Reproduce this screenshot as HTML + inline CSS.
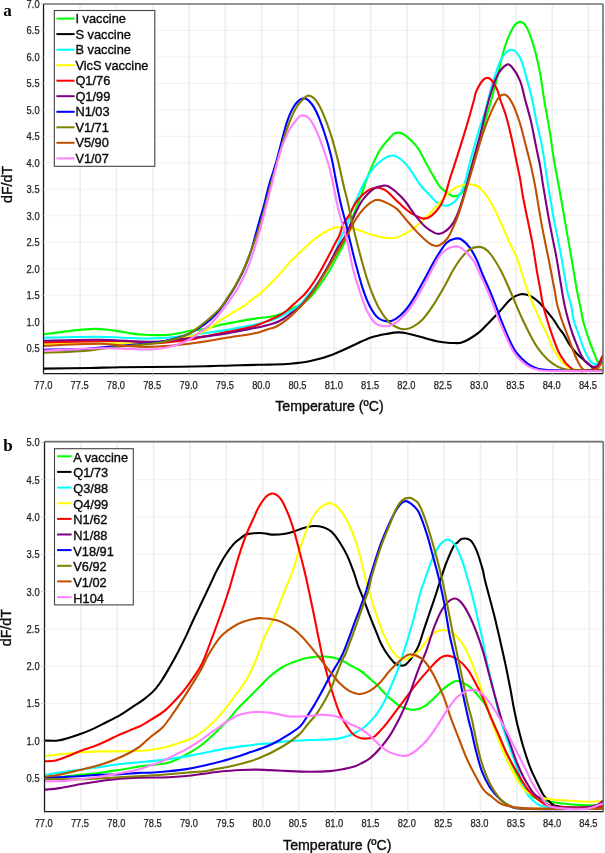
<!DOCTYPE html>
<html><head><meta charset="utf-8"><style>
html,body{margin:0;padding:0;background:#fff;}
svg{display:block;}
.tk{font-family:"Liberation Sans",sans-serif;font-size:10.7px;fill:#222;}
.ti{font-family:"Liberation Sans",sans-serif;font-size:14.2px;fill:#111;}
.lg{font-family:"Liberation Sans",sans-serif;font-size:12.8px;fill:#111;}
.lt{font-family:"Liberation Serif",serif;font-weight:bold;font-size:17px;fill:#000;}
svg{will-change:transform;}
.ti,.lg{stroke:#000;stroke-width:0.35px;}
.tk{stroke:#222;stroke-width:0.25px;}
</style></head><body>
<svg width="605" height="853" viewBox="0 0 605 853">
<defs>
<clipPath id="ca"><rect x="43.5" y="4.0" width="559.5" height="369.5"/></clipPath>
<clipPath id="cb"><rect x="44.5" y="441.6" width="558.8" height="370.1"/></clipPath>
</defs>
<line x1="43.8" y1="4.0" x2="43.8" y2="373.5" stroke="#eeeeee" stroke-width="1.6"/>
<line x1="80.1" y1="4.0" x2="80.1" y2="373.5" stroke="#eeeeee" stroke-width="1.6"/>
<line x1="116.4" y1="4.0" x2="116.4" y2="373.5" stroke="#eeeeee" stroke-width="1.6"/>
<line x1="152.7" y1="4.0" x2="152.7" y2="373.5" stroke="#eeeeee" stroke-width="1.6"/>
<line x1="189.1" y1="4.0" x2="189.1" y2="373.5" stroke="#eeeeee" stroke-width="1.6"/>
<line x1="225.4" y1="4.0" x2="225.4" y2="373.5" stroke="#eeeeee" stroke-width="1.6"/>
<line x1="261.7" y1="4.0" x2="261.7" y2="373.5" stroke="#eeeeee" stroke-width="1.6"/>
<line x1="298.0" y1="4.0" x2="298.0" y2="373.5" stroke="#eeeeee" stroke-width="1.6"/>
<line x1="334.3" y1="4.0" x2="334.3" y2="373.5" stroke="#eeeeee" stroke-width="1.6"/>
<line x1="370.6" y1="4.0" x2="370.6" y2="373.5" stroke="#eeeeee" stroke-width="1.6"/>
<line x1="406.9" y1="4.0" x2="406.9" y2="373.5" stroke="#eeeeee" stroke-width="1.6"/>
<line x1="443.3" y1="4.0" x2="443.3" y2="373.5" stroke="#eeeeee" stroke-width="1.6"/>
<line x1="479.6" y1="4.0" x2="479.6" y2="373.5" stroke="#eeeeee" stroke-width="1.6"/>
<line x1="515.9" y1="4.0" x2="515.9" y2="373.5" stroke="#eeeeee" stroke-width="1.6"/>
<line x1="552.2" y1="4.0" x2="552.2" y2="373.5" stroke="#eeeeee" stroke-width="1.6"/>
<line x1="588.5" y1="4.0" x2="588.5" y2="373.5" stroke="#eeeeee" stroke-width="1.6"/>
<line x1="43.5" y1="30.4" x2="603.0" y2="30.4" stroke="#e4e4e4" stroke-width="1" stroke-dasharray="1,1"/>
<line x1="43.5" y1="56.9" x2="603.0" y2="56.9" stroke="#e4e4e4" stroke-width="1" stroke-dasharray="1,1"/>
<line x1="43.5" y1="83.4" x2="603.0" y2="83.4" stroke="#e4e4e4" stroke-width="1" stroke-dasharray="1,1"/>
<line x1="43.5" y1="109.9" x2="603.0" y2="109.9" stroke="#e4e4e4" stroke-width="1" stroke-dasharray="1,1"/>
<line x1="43.5" y1="136.3" x2="603.0" y2="136.3" stroke="#e4e4e4" stroke-width="1" stroke-dasharray="1,1"/>
<line x1="43.5" y1="162.8" x2="603.0" y2="162.8" stroke="#e4e4e4" stroke-width="1" stroke-dasharray="1,1"/>
<line x1="43.5" y1="189.3" x2="603.0" y2="189.3" stroke="#e4e4e4" stroke-width="1" stroke-dasharray="1,1"/>
<line x1="43.5" y1="215.8" x2="603.0" y2="215.8" stroke="#e4e4e4" stroke-width="1" stroke-dasharray="1,1"/>
<line x1="43.5" y1="242.3" x2="603.0" y2="242.3" stroke="#e4e4e4" stroke-width="1" stroke-dasharray="1,1"/>
<line x1="43.5" y1="268.8" x2="603.0" y2="268.8" stroke="#e4e4e4" stroke-width="1" stroke-dasharray="1,1"/>
<line x1="43.5" y1="295.3" x2="603.0" y2="295.3" stroke="#e4e4e4" stroke-width="1" stroke-dasharray="1,1"/>
<line x1="43.5" y1="321.8" x2="603.0" y2="321.8" stroke="#e4e4e4" stroke-width="1" stroke-dasharray="1,1"/>
<line x1="43.5" y1="348.3" x2="603.0" y2="348.3" stroke="#e4e4e4" stroke-width="1" stroke-dasharray="1,1"/>
<g clip-path="url(#ca)" fill="none" stroke-width="2.1" stroke-linejoin="round" stroke-linecap="round">
<path d="M44.0,334.2 C47.7,333.7 60.0,332.2 66.4,331.4 C72.8,330.6 77.5,330.0 82.3,329.6 C87.1,329.2 91.5,328.9 95.5,328.9 C99.5,328.9 102.1,329.1 106.1,329.5 C110.1,329.9 115.0,330.7 119.3,331.4 C123.6,332.1 127.6,333.0 132.0,333.6 C136.4,334.2 141.1,334.6 145.8,334.8 C150.5,335.1 156.0,335.1 160.0,335.1 C164.0,335.1 166.6,335.2 170.0,334.8 C173.4,334.4 176.9,333.6 180.2,333.0 C183.4,332.4 185.1,331.7 189.5,331.0 C193.9,330.3 201.5,329.6 206.6,328.6 C211.7,327.6 215.4,326.0 219.8,325.0 C224.2,324.0 229.7,323.0 233.1,322.4 C236.5,321.8 237.2,321.6 240.0,321.1 C242.8,320.6 246.9,319.9 250.0,319.4 C253.1,318.9 255.6,318.5 258.3,318.1 C261.1,317.8 263.8,317.7 266.5,317.3 C269.2,316.9 272.6,316.2 274.8,315.7 C277.1,315.2 278.0,315.0 280.0,314.2 C282.0,313.4 284.7,312.1 287.0,311.0 C289.3,309.9 291.7,308.6 294.0,307.5 C296.3,306.4 298.2,306.2 301.0,304.5 C303.8,302.8 307.4,300.2 310.5,297.0 C313.6,293.8 316.5,289.7 319.5,285.5 C322.5,281.3 325.7,276.7 328.5,272.0 C331.3,267.3 333.7,262.8 336.5,257.5 C339.3,252.2 342.7,247.1 345.5,240.0 C348.3,232.9 350.8,222.2 353.4,215.0 C355.9,207.8 358.7,202.4 360.8,196.7 C362.9,191.0 364.2,186.2 366.1,180.9 C368.0,175.6 370.1,170.2 372.4,165.1 C374.7,160.0 377.3,154.4 379.8,150.3 C382.3,146.2 384.7,143.6 387.2,140.8 C389.7,138.0 392.1,134.6 394.6,133.4 C397.1,132.2 399.5,132.5 402.0,133.4 C404.5,134.3 406.9,136.5 409.5,138.9 C412.1,141.3 415.1,144.0 417.8,148.0 C420.6,152.0 423.2,157.9 426.0,162.9 C428.8,167.9 431.9,173.8 434.3,177.8 C436.7,181.8 438.1,184.6 440.1,187.0 C442.2,189.4 444.3,190.7 446.6,192.3 C448.9,193.9 451.5,196.3 454.0,196.4 C456.5,196.5 459.4,195.0 461.5,193.1 C463.6,191.2 464.9,188.8 466.4,184.9 C467.9,181.1 469.0,175.8 470.6,170.0 C472.2,164.2 473.9,157.0 476.0,150.0 C478.1,143.0 480.4,136.3 483.0,128.0 C485.6,119.7 488.8,108.8 491.3,100.0 C493.8,91.2 495.7,83.7 497.9,75.0 C500.1,66.3 502.0,55.8 504.5,48.0 C507.0,40.2 510.1,32.5 512.7,28.2 C515.3,23.8 517.9,22.0 520.2,21.9 C522.6,21.8 524.5,23.0 526.8,27.4 C529.1,31.8 532.0,40.4 534.2,48.0 C536.4,55.6 538.3,64.1 540.0,72.8 C541.7,81.5 542.5,90.0 544.2,100.0 C545.9,110.0 548.4,123.1 550.0,133.1 C551.6,143.1 552.4,150.5 554.0,160.0 C555.6,169.5 557.6,179.5 559.5,190.0 C561.4,200.5 563.4,212.1 565.3,223.1 C567.2,234.1 569.2,245.0 571.1,256.1 C573.0,267.2 575.2,281.0 576.9,290.0 C578.5,299.0 580.0,305.0 581.0,310.0 C582.0,315.0 581.9,316.1 582.9,320.0 C583.9,323.9 585.4,328.8 586.8,333.2 C588.2,337.6 590.0,342.5 591.4,346.4 C592.8,350.3 594.3,353.8 595.4,356.4 C596.5,359.0 597.2,361.4 598.1,362.3 C599.0,363.2 599.7,362.6 600.5,362.0 C601.3,361.4 602.6,359.5 603.0,359.0" stroke="#00ff00"/>
<path d="M44.0,368.6 C51.7,368.5 77.3,368.2 90.0,368.0 C102.7,367.8 105.0,367.4 120.0,367.2 C135.0,367.0 165.0,367.0 180.0,366.8 C195.0,366.6 199.9,366.4 209.8,366.1 C219.7,365.8 229.6,365.4 239.5,365.2 C249.4,364.9 260.9,364.8 269.3,364.6 C277.7,364.4 283.0,364.4 290.0,363.8 C297.0,363.2 304.3,362.4 311.5,360.8 C318.7,359.2 325.8,357.1 333.0,354.4 C340.2,351.7 348.1,347.6 354.5,344.7 C360.9,341.8 366.1,339.0 371.7,337.2 C377.3,335.4 383.9,334.4 388.3,333.6 C392.7,332.8 395.2,332.5 398.2,332.4 C401.2,332.3 403.4,332.6 406.4,333.2 C409.4,333.8 412.8,334.7 416.4,335.7 C420.0,336.7 424.3,338.0 427.9,339.0 C431.5,340.0 434.6,340.9 437.9,341.5 C441.2,342.1 445.0,342.6 447.8,342.8 C450.6,343.1 452.3,343.0 454.5,343.0 C456.7,343.0 458.5,343.5 461.0,342.8 C463.5,342.1 466.1,340.9 469.3,339.0 C472.5,337.1 477.2,333.9 480.0,331.6 C482.8,329.3 483.7,327.8 486.1,325.4 C488.5,323.0 491.6,320.0 494.4,317.1 C497.1,314.2 499.9,311.1 502.6,308.1 C505.4,305.1 507.9,301.3 510.9,299.0 C513.9,296.7 517.4,294.9 520.5,294.3 C523.6,293.8 526.9,294.5 529.8,295.7 C532.7,296.9 535.4,299.0 538.1,301.5 C540.9,304.0 543.7,307.5 546.3,310.6 C548.9,313.7 551.8,317.2 553.8,320.0 C555.8,322.8 556.8,325.1 558.5,327.5 C560.2,329.9 562.0,331.8 563.8,334.5 C565.5,337.2 567.4,341.2 569.0,343.8 C570.6,346.4 572.1,347.9 573.6,349.8 C575.1,351.7 576.6,353.4 578.2,355.0 C579.9,356.6 581.9,358.3 583.5,359.7 C585.1,361.1 586.6,362.3 588.1,363.6 C589.6,364.9 591.5,366.6 592.8,367.6 C594.1,368.6 594.1,369.1 596.0,369.5 C597.9,369.9 602.7,369.9 604.0,370.0" stroke="#000000"/>
<path d="M44.0,337.8 C52.5,337.6 80.7,336.8 95.0,336.8 C109.3,336.8 120.2,337.7 130.0,338.0 C139.8,338.3 144.1,338.8 154.0,338.4 C163.9,338.0 181.0,336.4 189.5,335.5 C198.0,334.6 199.0,333.9 205.0,333.0 C211.0,332.1 217.8,331.3 225.3,330.1 C232.8,328.9 243.9,326.8 250.0,325.6 C256.1,324.4 257.9,323.9 262.0,322.8 C266.1,321.7 270.6,320.6 274.8,319.0 C279.0,317.4 283.1,315.6 287.2,313.2 C291.3,310.8 296.4,307.6 299.6,304.9 C302.8,302.2 303.8,300.3 306.5,297.0 C309.2,293.7 312.9,289.2 316.0,285.0 C319.1,280.8 322.1,276.8 325.0,272.0 C327.9,267.2 330.7,262.2 333.5,256.0 C336.3,249.8 339.7,240.4 342.0,235.0 C344.3,229.6 345.8,227.7 347.4,223.8 C348.9,219.9 349.6,216.0 351.3,211.5 C353.0,207.0 355.6,201.4 357.7,196.7 C359.8,191.9 361.6,187.6 364.0,183.0 C366.4,178.4 369.6,173.0 372.4,169.3 C375.2,165.6 378.1,163.1 380.9,160.9 C383.7,158.7 386.9,156.9 389.3,156.1 C391.8,155.3 393.0,154.9 395.6,156.1 C398.2,157.2 402.4,160.5 405.0,163.0 C407.6,165.5 408.5,167.4 411.2,171.2 C413.9,175.0 418.0,182.1 421.1,186.0 C424.2,189.9 426.8,192.0 429.6,194.9 C432.4,197.8 435.1,201.4 437.9,203.2 C440.7,205.0 443.4,206.0 446.2,205.7 C449.0,205.4 452.3,203.8 454.9,201.4 C457.4,199.0 459.7,195.1 461.5,191.5 C463.3,187.9 464.2,184.7 465.6,179.9 C467.0,175.1 467.7,170.6 469.8,162.8 C471.9,155.0 475.5,141.9 478.1,133.1 C480.7,124.3 483.3,117.6 485.5,110.0 C487.7,102.4 489.3,94.5 491.2,87.7 C493.1,81.0 495.1,74.7 497.0,69.5 C498.9,64.3 500.3,59.6 502.8,56.3 C505.3,53.0 509.0,49.4 511.9,49.7 C514.8,50.0 517.9,53.5 520.2,57.9 C522.6,62.3 524.1,69.5 526.0,76.1 C527.9,82.7 529.9,89.8 531.7,97.6 C533.5,105.4 535.1,115.3 536.8,123.1 C538.5,130.9 540.2,137.1 541.7,144.6 C543.2,152.1 544.3,160.4 545.5,168.0 C546.7,175.6 547.3,180.8 548.8,190.0 C550.3,199.2 552.5,212.1 554.6,223.1 C556.7,234.1 559.1,245.0 561.2,256.1 C563.3,267.2 565.4,281.9 567.0,290.0 C568.6,298.1 570.0,299.8 571.1,304.8 C572.2,309.8 572.4,315.3 573.6,320.0 C574.8,324.7 576.7,328.8 578.2,333.2 C579.8,337.6 581.4,342.5 582.9,346.4 C584.4,350.3 586.1,353.8 587.5,356.4 C588.9,359.0 590.2,361.0 591.4,362.3 C592.6,363.6 593.8,363.8 594.8,364.0 C595.8,364.2 596.5,363.9 597.4,363.6 C598.3,363.3 599.1,362.6 600.0,362.0 C600.9,361.4 602.5,360.3 603.0,360.0" stroke="#00ffff"/>
<path d="M44.0,344.2 C56.0,344.1 97.7,343.6 116.0,343.4 C134.3,343.2 144.7,343.3 154.0,342.8 C163.3,342.3 166.1,341.7 172.0,340.6 C177.9,339.6 184.8,337.7 189.5,336.5 C194.2,335.3 196.8,334.4 200.0,333.2 C203.2,331.9 206.4,330.3 208.6,329.0 C210.8,327.7 211.3,326.9 213.2,325.5 C215.1,324.1 217.6,322.2 219.8,320.7 C222.0,319.2 224.2,318.0 226.4,316.6 C228.6,315.2 230.8,313.8 233.1,312.4 C235.4,311.0 237.9,309.5 240.0,308.3 C242.1,307.1 243.6,306.4 245.5,305.0 C247.4,303.6 249.4,301.4 251.5,299.8 C253.6,298.2 256.2,296.5 258.1,295.1 C260.0,293.7 261.1,292.7 262.8,291.2 C264.5,289.7 266.1,287.9 268.1,285.9 C270.1,283.9 272.9,281.1 274.7,279.3 C276.5,277.5 277.0,277.2 279.0,274.9 C281.0,272.6 284.7,268.1 286.9,265.6 C289.1,263.1 290.2,261.8 292.0,260.0 C293.8,258.2 295.4,256.8 297.5,254.8 C299.6,252.8 302.7,249.8 304.8,247.8 C306.9,245.8 308.3,244.5 310.0,243.0 C311.7,241.5 313.2,239.9 315.0,238.6 C316.8,237.3 317.7,236.7 320.5,235.0 C323.3,233.3 328.2,229.7 331.6,228.4 C335.0,227.1 337.7,227.2 341.0,227.1 C344.3,227.0 347.8,227.2 351.2,227.9 C354.6,228.6 358.2,230.2 361.7,231.3 C365.2,232.5 368.2,233.7 372.1,234.8 C376.0,235.9 381.2,237.4 385.0,237.9 C388.8,238.4 391.3,238.7 394.9,237.9 C398.5,237.1 402.6,235.1 406.5,232.9 C410.4,230.7 414.5,227.6 418.1,224.7 C421.7,221.8 424.7,218.9 428.0,215.6 C431.3,212.3 434.5,208.6 437.9,204.8 C441.3,201.1 445.2,196.0 448.3,193.1 C451.4,190.2 453.8,188.8 456.5,187.4 C459.2,186.0 462.3,185.0 464.8,184.5 C467.3,184.0 469.2,184.2 471.4,184.5 C473.6,184.8 475.8,185.1 478.0,186.5 C480.2,187.9 482.4,190.3 484.6,193.1 C486.8,195.9 489.0,199.2 491.2,203.1 C493.4,207.0 495.7,211.6 497.9,216.3 C500.1,221.0 502.3,226.2 504.5,231.2 C506.7,236.1 508.9,241.2 511.1,246.0 C513.3,250.8 515.6,254.4 517.7,260.1 C519.9,265.8 522.0,273.9 524.0,280.0 C526.0,286.1 527.1,289.8 529.8,296.5 C532.5,303.2 537.2,313.9 540.0,320.0 C542.8,326.1 544.4,328.3 546.6,333.2 C548.8,338.1 550.8,344.5 553.2,349.1 C555.6,353.7 559.1,358.4 561.1,361.0 C563.1,363.6 563.7,363.4 565.0,364.5 C566.3,365.6 567.0,366.8 569.0,367.6 C571.0,368.5 574.2,369.1 576.9,369.6 C579.6,370.1 582.0,370.4 585.0,370.5 C588.0,370.6 592.4,370.3 595.0,370.0 C597.6,369.7 599.2,369.4 600.7,368.9 C602.2,368.4 603.5,367.3 604.0,367.0" stroke="#ffff00"/>
<path d="M44.0,342.4 C53.3,342.2 85.7,341.4 100.0,341.2 C114.3,341.0 121.0,340.9 130.0,341.2 C139.0,341.5 144.1,343.5 154.0,343.2 C163.9,342.9 181.8,340.6 189.5,339.6 C197.2,338.6 196.1,338.2 200.0,337.4 C203.9,336.6 208.8,335.7 213.2,334.8 C217.6,333.9 222.0,333.0 226.4,332.1 C230.8,331.2 235.8,330.3 239.7,329.5 C243.6,328.7 246.9,328.0 250.0,327.2 C253.1,326.4 255.6,325.8 258.3,324.8 C261.1,323.8 263.8,322.6 266.5,321.4 C269.2,320.2 272.3,318.9 274.8,317.7 C277.3,316.5 279.3,315.6 281.4,314.4 C283.5,313.2 285.1,312.0 287.2,310.3 C289.3,308.6 291.7,306.0 293.8,304.1 C295.9,302.2 297.4,301.2 299.6,299.1 C301.8,297.0 304.2,295.0 307.0,291.5 C309.8,288.0 313.2,283.1 316.3,278.2 C319.4,273.2 322.8,266.8 325.5,261.8 C328.2,256.8 330.2,252.9 332.5,248.4 C334.8,243.9 337.7,239.0 339.5,235.0 C341.3,231.0 341.5,227.7 343.1,224.4 C344.7,221.1 347.1,218.6 349.2,215.0 C351.3,211.4 353.2,206.5 355.5,203.1 C357.8,199.7 360.4,196.9 362.9,194.6 C365.4,192.3 368.0,190.4 370.3,189.3 C372.6,188.2 374.8,188.0 376.6,187.8 C378.4,187.6 379.1,187.7 380.9,188.3 C382.7,188.9 384.9,189.8 387.2,191.5 C389.5,193.2 391.6,196.0 394.6,198.8 C397.6,201.6 402.1,206.0 405.0,208.5 C407.9,211.0 408.8,211.9 411.9,213.6 C415.0,215.3 420.5,218.3 423.8,218.6 C427.1,218.9 429.1,217.6 431.7,215.6 C434.3,213.6 437.4,210.2 439.7,206.7 C442.0,203.2 443.6,199.2 445.3,194.5 C447.0,189.8 447.8,185.4 450.0,178.5 C452.2,171.6 455.6,161.6 458.3,152.9 C461.1,144.2 463.9,135.2 466.5,126.4 C469.1,117.6 472.4,105.9 474.0,100.0 C475.6,94.1 474.8,94.4 476.4,91.0 C478.0,87.6 481.5,81.4 483.8,79.4 C486.1,77.4 488.2,77.4 490.4,79.1 C492.6,80.8 495.3,85.8 497.0,89.3 C498.7,92.8 498.9,95.5 500.4,100.0 C501.9,104.5 504.4,110.4 506.2,116.5 C508.0,122.6 509.5,129.2 511.2,136.4 C512.9,143.6 514.6,152.3 516.1,159.5 C517.6,166.7 519.1,173.4 520.2,179.3 C521.3,185.2 521.4,188.1 522.6,194.8 C523.8,201.5 525.9,211.3 527.6,219.6 C529.3,227.9 531.1,236.0 532.6,244.4 C534.1,252.8 535.5,262.7 536.7,270.0 C537.9,277.3 539.0,282.2 540.0,288.0 C541.0,293.8 541.8,299.5 543.0,304.8 C544.2,310.1 545.7,315.1 547.2,320.0 C548.7,324.9 550.0,329.2 551.9,334.5 C553.8,339.8 556.3,347.1 558.5,351.7 C560.7,356.3 563.5,360.0 565.1,362.3 C566.7,364.6 567.2,364.6 568.3,365.6 C569.4,366.6 570.6,367.7 571.7,368.5 C572.8,369.3 572.7,370.0 574.9,370.4 C577.1,370.8 581.9,371.2 585.0,371.0 C588.1,370.8 591.2,369.9 593.4,368.9 C595.6,367.9 596.7,367.0 598.1,365.0 C599.5,363.0 601.0,358.8 602.0,357.0 C603.0,355.2 603.7,354.5 604.0,354.0" stroke="#ff0000"/>
<path d="M44.0,340.8 C53.3,340.6 81.7,339.6 100.0,339.8 C118.3,340.0 139.1,342.1 154.0,341.8 C168.9,341.5 181.8,338.8 189.5,338.0 C197.2,337.2 194.0,337.7 200.0,337.0 C206.0,336.3 217.0,335.0 225.3,333.6 C233.6,332.2 243.8,330.1 250.0,328.9 C256.2,327.7 258.3,327.4 262.4,326.4 C266.5,325.4 271.4,324.3 274.8,323.1 C278.2,321.9 280.4,320.6 283.1,319.0 C285.9,317.4 288.5,315.3 291.3,313.2 C294.1,311.1 297.0,309.6 300.0,306.6 C303.0,303.7 306.4,299.5 309.5,295.5 C312.6,291.5 315.4,287.4 318.5,282.5 C321.6,277.6 325.0,271.7 328.0,266.3 C331.0,260.9 333.7,255.0 336.5,250.0 C339.3,245.0 342.5,241.1 345.0,236.5 C347.5,231.9 349.9,225.8 351.5,222.2 C353.1,218.6 352.8,218.5 354.5,215.0 C356.2,211.5 359.3,204.9 361.9,201.0 C364.5,197.1 367.9,193.8 370.3,191.5 C372.8,189.2 374.5,188.2 376.6,187.2 C378.7,186.2 381.1,185.9 383.0,185.7 C384.9,185.5 386.1,185.2 388.2,186.2 C390.3,187.2 392.8,189.0 395.6,191.5 C398.4,194.0 401.8,197.1 405.0,201.0 C408.2,204.9 411.5,210.6 414.8,214.8 C418.1,219.0 421.4,223.3 424.7,226.3 C428.0,229.3 432.1,231.7 434.6,232.9 C437.1,234.2 437.5,234.2 439.5,233.8 C441.5,233.4 444.3,232.1 446.6,230.3 C448.9,228.5 451.0,226.6 453.2,222.9 C455.4,219.2 457.9,213.2 459.8,208.0 C461.7,202.8 463.1,197.3 464.8,191.5 C466.5,185.7 467.3,182.5 469.8,173.3 C472.3,164.1 476.6,148.6 479.8,136.4 C483.0,124.2 485.9,110.0 488.8,100.0 C491.7,90.0 494.1,81.9 497.0,76.1 C499.9,70.3 503.6,66.5 506.1,65.0 C508.6,63.5 509.5,64.3 511.9,67.0 C514.2,69.7 518.0,75.6 520.2,81.1 C522.4,86.6 523.4,93.3 525.2,100.0 C527.0,106.7 529.2,113.8 531.0,121.5 C532.8,129.2 534.5,138.9 536.0,146.3 C537.5,153.7 538.9,159.5 540.1,166.1 C541.3,172.7 541.6,176.5 543.2,186.0 C544.8,195.5 547.4,211.4 549.6,223.1 C551.8,234.8 554.3,245.8 556.2,256.1 C558.1,266.4 559.6,276.9 561.0,285.0 C562.4,293.1 563.3,299.0 564.5,304.8 C565.7,310.6 567.0,315.3 568.3,320.0 C569.6,324.7 570.9,329.0 572.3,333.2 C573.7,337.4 575.4,341.4 576.9,345.1 C578.4,348.9 580.0,352.8 581.5,355.7 C583.0,358.6 584.6,360.6 586.2,362.3 C587.9,364.0 590.1,365.2 591.4,366.0 C592.7,366.8 593.0,367.0 594.1,366.9 C595.2,366.8 596.8,366.6 598.1,365.6 C599.4,364.6 601.0,362.3 602.0,361.0 C603.0,359.7 603.7,358.5 604.0,358.0" stroke="#800080"/>
<path d="M44.0,349.7 C50.0,349.6 69.3,349.6 80.0,349.1 C90.7,348.6 95.7,347.8 108.0,346.7 C120.3,345.6 142.8,344.2 154.0,342.8 C165.2,341.4 169.1,340.1 175.0,338.5 C180.9,336.9 185.3,335.3 189.5,333.5 C193.7,331.7 196.6,329.8 200.0,327.5 C203.4,325.2 206.7,323.0 210.0,320.0 C213.3,317.0 217.1,313.1 220.0,309.5 C222.9,305.9 225.1,302.4 227.7,298.5 C230.3,294.6 232.9,290.6 235.5,286.0 C238.1,281.4 240.8,276.2 243.2,271.0 C245.6,265.8 247.8,260.2 249.7,255.0 C251.5,249.8 252.7,245.2 254.3,239.5 C255.9,233.8 257.8,226.7 259.4,221.0 C261.0,215.3 262.3,211.5 263.9,205.5 C265.5,199.5 267.0,192.4 269.1,185.0 C271.2,177.6 273.6,171.2 276.5,161.0 C279.4,150.8 283.5,132.9 286.4,123.8 C289.3,114.7 291.4,110.6 293.9,106.5 C296.4,102.4 299.0,100.1 301.3,99.0 C303.6,97.9 305.4,97.8 307.9,99.9 C310.4,102.0 313.4,105.9 316.2,111.4 C319.0,116.9 322.0,125.5 324.5,133.0 C327.0,140.4 329.0,147.4 331.1,156.1 C333.2,164.8 335.2,176.9 336.9,185.0 C338.5,193.1 339.5,198.3 341.0,204.8 C342.5,211.3 344.5,217.7 346.0,223.8 C347.5,229.9 348.5,234.7 350.1,241.2 C351.7,247.7 353.3,254.9 355.5,263.0 C357.7,271.1 360.7,282.5 363.1,289.7 C365.5,296.9 367.3,301.5 369.8,306.2 C372.3,310.9 375.0,315.3 378.0,317.8 C381.0,320.3 384.9,321.3 387.9,321.4 C390.9,321.5 393.2,320.6 396.2,318.6 C399.2,316.6 402.8,313.5 406.1,309.5 C409.4,305.5 412.7,300.1 416.0,294.6 C419.3,289.1 422.7,282.4 426.0,276.4 C429.3,270.3 432.5,263.9 435.9,258.3 C439.3,252.7 443.3,246.0 446.6,242.7 C449.9,239.4 453.0,239.1 455.5,238.6 C458.0,238.1 459.1,238.0 461.5,239.5 C463.9,241.0 467.3,244.4 469.8,247.7 C472.3,251.0 474.2,254.8 476.4,259.3 C478.6,263.9 480.6,269.9 482.8,275.0 C485.0,280.1 487.2,284.7 489.4,289.9 C491.6,295.1 494.1,301.4 496.0,306.4 C497.9,311.4 499.0,314.9 501.0,320.0 C503.0,325.1 505.9,332.1 508.2,337.2 C510.5,342.3 512.6,346.9 514.8,350.4 C517.0,353.9 519.0,355.9 521.4,358.3 C523.8,360.7 526.5,363.2 529.4,365.0 C532.3,366.8 535.5,368.1 538.6,368.9 C541.7,369.7 541.8,369.8 547.9,370.0 C554.0,370.2 565.6,370.2 575.0,370.3 C584.4,370.4 599.2,370.4 604.0,370.4" stroke="#0000ff"/>
<path d="M44.0,352.7 C50.0,352.5 69.0,352.1 80.0,351.3 C91.0,350.5 97.7,349.0 110.0,347.7 C122.3,346.4 143.2,344.8 154.0,343.4 C164.8,341.9 169.1,340.6 175.0,339.0 C180.9,337.4 185.3,335.6 189.5,333.5 C193.7,331.4 196.6,328.7 200.0,326.1 C203.4,323.5 206.7,320.9 210.0,318.0 C213.3,315.1 217.1,311.8 220.0,308.4 C222.9,305.0 225.1,301.3 227.7,297.4 C230.3,293.5 232.9,289.7 235.5,285.2 C238.1,280.7 240.8,275.5 243.2,270.3 C245.6,265.1 247.6,259.5 249.7,254.2 C251.8,248.9 253.6,244.4 255.6,238.7 C257.6,233.0 259.7,226.3 261.5,220.0 C263.3,213.7 264.8,207.3 266.5,201.0 C268.2,194.7 269.7,188.7 271.5,182.0 C273.3,175.3 275.4,168.3 277.5,161.0 C279.6,153.7 282.0,144.4 284.0,138.0 C286.0,131.6 287.4,127.4 289.3,122.5 C291.2,117.6 293.5,112.4 295.6,108.7 C297.7,105.0 299.8,102.5 302.0,100.3 C304.2,98.1 306.2,95.5 308.6,95.6 C311.0,95.7 313.7,97.5 316.2,100.7 C318.7,103.9 321.1,109.0 323.6,114.8 C326.1,120.6 328.8,128.0 331.1,135.4 C333.5,142.8 335.6,151.1 337.7,159.4 C339.8,167.7 341.9,178.0 343.5,185.0 C345.1,192.0 346.1,194.9 347.6,201.5 C349.1,208.1 351.0,217.4 352.6,224.6 C354.2,231.8 355.5,236.7 357.5,244.5 C359.5,252.3 362.5,263.7 364.8,271.5 C367.1,279.3 368.9,285.0 371.4,291.3 C373.9,297.6 376.7,304.3 379.7,309.5 C382.7,314.7 386.6,319.7 389.6,322.7 C392.6,325.7 395.4,326.6 397.9,327.7 C400.4,328.8 402.0,329.4 404.5,329.3 C407.0,329.2 409.7,328.5 412.7,326.9 C415.7,325.2 419.3,322.8 422.6,319.4 C425.9,315.9 428.9,311.8 432.6,306.2 C436.3,300.6 441.4,291.7 444.8,285.7 C448.2,279.7 450.4,274.7 453.2,270.0 C456.0,265.3 458.7,261.1 461.5,257.6 C464.3,254.2 467.1,251.1 469.8,249.3 C472.6,247.5 475.5,247.0 478.0,246.9 C480.5,246.8 482.4,247.2 484.6,248.5 C486.8,249.8 488.4,251.2 491.2,255.0 C494.0,258.8 498.5,266.2 501.2,271.2 C503.9,276.2 505.7,280.8 507.6,285.0 C509.5,289.2 510.9,292.6 512.6,296.5 C514.3,300.4 515.9,304.4 517.6,308.3 C519.3,312.2 520.6,315.4 522.8,320.0 C525.0,324.6 528.1,331.0 530.7,335.9 C533.3,340.8 535.7,345.1 538.6,349.1 C541.5,353.1 544.8,356.8 547.9,359.7 C551.0,362.6 554.0,364.6 557.1,366.3 C560.2,368.0 563.4,368.9 566.4,369.6 C569.4,370.3 568.7,370.1 575.0,370.3 C581.3,370.5 599.2,370.6 604.0,370.6" stroke="#808000"/>
<path d="M44.0,345.8 C53.3,345.5 85.7,343.7 100.0,343.8 C114.3,343.9 121.0,345.8 130.0,346.3 C139.0,346.8 144.1,347.1 154.0,346.7 C163.9,346.3 177.6,345.1 189.5,343.7 C201.4,342.2 214.4,339.8 225.3,338.0 C236.2,336.2 248.1,334.6 255.0,333.2 C261.9,331.8 263.2,330.7 266.5,329.7 C269.8,328.7 272.0,328.4 274.8,327.2 C277.6,326.0 280.4,324.2 283.1,322.3 C285.9,320.4 287.4,319.4 291.3,315.7 C295.2,312.0 302.4,304.8 306.5,300.0 C310.6,295.2 312.7,291.9 316.0,287.0 C319.3,282.1 323.2,276.0 326.5,270.5 C329.8,265.0 332.7,259.7 336.0,254.0 C339.3,248.3 343.5,241.8 346.5,236.5 C349.5,231.2 352.0,225.8 354.0,222.2 C356.0,218.6 356.7,217.7 358.7,215.0 C360.7,212.3 363.5,208.6 366.1,206.2 C368.7,203.8 372.0,201.4 374.5,200.4 C377.0,199.4 378.4,199.8 380.9,200.4 C383.4,201.0 386.5,202.6 389.3,204.1 C392.1,205.6 395.1,207.3 397.7,209.6 C400.3,211.9 401.9,214.8 404.8,218.1 C407.7,221.4 411.5,226.0 414.8,229.6 C418.1,233.2 421.7,236.9 424.7,239.5 C427.7,242.1 430.4,244.3 432.9,245.3 C435.4,246.3 437.0,246.5 439.5,245.3 C442.0,244.1 445.0,242.2 447.8,237.9 C450.6,233.6 453.9,225.9 456.5,219.6 C459.1,213.2 461.2,205.9 463.1,199.8 C465.0,193.7 466.4,188.8 468.1,183.2 C469.8,177.6 470.6,174.4 473.1,166.1 C475.6,157.8 480.0,142.2 483.0,133.1 C486.0,124.0 488.7,117.5 491.3,111.6 C493.9,105.7 496.4,100.4 498.7,97.6 C501.0,94.8 503.1,94.0 505.3,94.8 C507.5,95.6 509.5,98.1 511.9,102.6 C514.2,107.0 517.0,114.2 519.4,121.5 C521.8,128.8 524.1,138.9 526.0,146.3 C527.9,153.7 529.5,159.3 531.0,166.1 C532.5,172.9 533.6,177.5 535.3,187.0 C537.0,196.5 539.3,211.6 541.4,223.1 C543.5,234.6 545.8,245.0 548.0,256.1 C550.2,267.2 553.1,282.2 554.6,290.0 C556.1,297.8 555.6,298.0 556.8,303.0 C558.0,308.0 560.4,315.7 561.8,320.0 C563.2,324.3 563.9,325.7 565.0,328.6 C566.1,331.5 567.2,334.2 568.3,337.2 C569.4,340.2 570.5,343.4 571.6,346.4 C572.7,349.4 573.8,352.4 574.9,355.0 C576.0,357.6 577.1,360.2 578.2,362.3 C579.3,364.4 580.4,366.3 581.5,367.6 C582.6,368.9 583.4,369.7 584.8,370.3 C586.2,370.9 588.3,371.0 590.0,371.0 C591.7,371.0 593.2,371.0 594.8,370.2 C596.4,369.4 598.1,367.8 599.4,366.3 C600.7,364.8 601.9,362.4 602.7,361.0 C603.5,359.6 603.8,358.5 604.0,358.0" stroke="#c05000"/>
<path d="M44.0,350.7 C53.3,350.3 85.7,348.6 100.0,348.3 C114.3,348.0 121.0,348.7 130.0,348.9 C139.0,349.1 146.5,349.9 154.0,349.3 C161.5,348.7 169.1,347.1 175.0,345.5 C180.9,343.9 185.3,341.7 189.5,339.5 C193.7,337.3 196.6,334.6 200.0,332.1 C203.4,329.6 206.2,328.2 210.0,324.5 C213.8,320.8 219.2,314.2 222.6,310.0 C226.0,305.8 227.7,303.1 230.3,299.4 C232.9,295.7 235.5,292.2 238.1,287.7 C240.7,283.2 243.4,277.7 245.8,272.3 C248.2,266.9 250.4,261.1 252.3,255.5 C254.2,249.9 255.8,244.3 257.4,238.7 C259.0,233.1 260.5,227.9 262.1,221.9 C263.7,215.9 265.5,208.8 267.1,202.6 C268.7,196.4 269.5,193.3 271.6,185.0 C273.7,176.7 277.1,161.8 279.8,153.0 C282.6,144.2 285.6,137.3 288.1,132.1 C290.6,126.9 292.5,124.8 294.7,122.0 C296.9,119.2 298.9,116.2 301.3,115.6 C303.7,114.9 306.3,115.6 308.8,118.1 C311.3,120.6 313.7,125.3 316.2,130.5 C318.7,135.7 321.4,143.3 323.6,149.5 C325.8,155.7 327.8,161.5 329.4,167.6 C331.0,173.7 332.1,179.5 333.5,186.0 C334.9,192.5 336.2,200.0 337.7,206.4 C339.2,212.8 341.0,218.5 342.6,224.6 C344.2,230.7 345.8,235.5 347.6,243.0 C349.4,250.5 351.2,261.8 353.2,269.8 C355.2,277.9 357.6,284.7 359.8,291.3 C362.0,297.9 363.9,304.3 366.4,309.5 C368.9,314.7 371.9,319.9 374.7,322.7 C377.5,325.4 380.5,325.5 383.0,326.0 C385.5,326.5 387.1,326.5 389.6,325.7 C392.1,324.9 394.9,323.5 397.9,321.1 C400.9,318.7 404.5,315.3 407.8,311.2 C411.1,307.1 414.4,301.8 417.7,296.3 C421.0,290.8 424.0,284.7 427.6,278.1 C431.2,271.5 436.0,261.4 439.2,256.6 C442.4,251.8 444.1,251.0 446.6,249.3 C449.1,247.6 452.0,246.8 454.4,246.5 C456.8,246.2 458.7,246.5 461.0,247.8 C463.3,249.1 465.8,251.8 468.1,254.3 C470.4,256.8 472.7,259.2 474.7,262.6 C476.7,266.1 478.1,270.2 480.3,275.0 C482.5,279.8 485.5,286.0 487.8,291.5 C490.1,297.0 492.5,303.4 494.4,308.1 C496.3,312.9 496.9,314.9 499.0,320.0 C501.1,325.1 504.5,333.2 506.9,338.5 C509.3,343.8 511.1,347.9 513.5,351.7 C515.9,355.4 518.8,358.5 521.4,361.0 C524.0,363.5 526.5,365.4 529.4,366.9 C532.3,368.4 535.1,369.3 538.6,370.0 C542.1,370.7 539.6,370.7 550.5,370.9 C561.4,371.1 595.1,371.1 604.0,371.2" stroke="#ff80ff"/>
</g>
<line x1="43.5" y1="4.0" x2="603.0" y2="4.0" stroke="#707070" stroke-width="1.6"/>
<line x1="603.0" y1="4.0" x2="603.0" y2="373.5" stroke="#707070" stroke-width="1.6"/>
<line x1="43.5" y1="4.0" x2="43.5" y2="374.1" stroke="#151515" stroke-width="1.25"/>
<line x1="43.5" y1="373.5" x2="603.0" y2="373.5" stroke="#151515" stroke-width="1.25"/>
<text x="39.6" y="7.7" text-anchor="end" class="tk" textLength="13.0" lengthAdjust="spacingAndGlyphs">7.0</text>
<line x1="41" y1="3.9" x2="43.5" y2="3.9" stroke="#ccc" stroke-width="1"/>
<text x="39.6" y="34.2" text-anchor="end" class="tk" textLength="13.0" lengthAdjust="spacingAndGlyphs">6.5</text>
<line x1="41" y1="30.4" x2="43.5" y2="30.4" stroke="#ccc" stroke-width="1"/>
<text x="39.6" y="60.7" text-anchor="end" class="tk" textLength="13.0" lengthAdjust="spacingAndGlyphs">6.0</text>
<line x1="41" y1="56.9" x2="43.5" y2="56.9" stroke="#ccc" stroke-width="1"/>
<text x="39.6" y="87.2" text-anchor="end" class="tk" textLength="13.0" lengthAdjust="spacingAndGlyphs">5.5</text>
<line x1="41" y1="83.4" x2="43.5" y2="83.4" stroke="#ccc" stroke-width="1"/>
<text x="39.6" y="113.7" text-anchor="end" class="tk" textLength="13.0" lengthAdjust="spacingAndGlyphs">5.0</text>
<line x1="41" y1="109.9" x2="43.5" y2="109.9" stroke="#ccc" stroke-width="1"/>
<text x="39.6" y="140.2" text-anchor="end" class="tk" textLength="13.0" lengthAdjust="spacingAndGlyphs">4.5</text>
<line x1="41" y1="136.3" x2="43.5" y2="136.3" stroke="#ccc" stroke-width="1"/>
<text x="39.6" y="166.6" text-anchor="end" class="tk" textLength="13.0" lengthAdjust="spacingAndGlyphs">4.0</text>
<line x1="41" y1="162.8" x2="43.5" y2="162.8" stroke="#ccc" stroke-width="1"/>
<text x="39.6" y="193.1" text-anchor="end" class="tk" textLength="13.0" lengthAdjust="spacingAndGlyphs">3.5</text>
<line x1="41" y1="189.3" x2="43.5" y2="189.3" stroke="#ccc" stroke-width="1"/>
<text x="39.6" y="219.6" text-anchor="end" class="tk" textLength="13.0" lengthAdjust="spacingAndGlyphs">3.0</text>
<line x1="41" y1="215.8" x2="43.5" y2="215.8" stroke="#ccc" stroke-width="1"/>
<text x="39.6" y="246.1" text-anchor="end" class="tk" textLength="13.0" lengthAdjust="spacingAndGlyphs">2.5</text>
<line x1="41" y1="242.3" x2="43.5" y2="242.3" stroke="#ccc" stroke-width="1"/>
<text x="39.6" y="272.6" text-anchor="end" class="tk" textLength="13.0" lengthAdjust="spacingAndGlyphs">2.0</text>
<line x1="41" y1="268.8" x2="43.5" y2="268.8" stroke="#ccc" stroke-width="1"/>
<text x="39.6" y="299.1" text-anchor="end" class="tk" textLength="13.0" lengthAdjust="spacingAndGlyphs">1.5</text>
<line x1="41" y1="295.3" x2="43.5" y2="295.3" stroke="#ccc" stroke-width="1"/>
<text x="39.6" y="325.6" text-anchor="end" class="tk" textLength="13.0" lengthAdjust="spacingAndGlyphs">1.0</text>
<line x1="41" y1="321.8" x2="43.5" y2="321.8" stroke="#ccc" stroke-width="1"/>
<text x="39.6" y="352.1" text-anchor="end" class="tk" textLength="13.0" lengthAdjust="spacingAndGlyphs">0.5</text>
<line x1="41" y1="348.3" x2="43.5" y2="348.3" stroke="#ccc" stroke-width="1"/>
<text x="43.3" y="389.0" text-anchor="middle" class="tk" textLength="18.1" lengthAdjust="spacingAndGlyphs">77.0</text>
<line x1="43.8" y1="373.5" x2="43.8" y2="376.5" stroke="#ccc" stroke-width="1"/>
<text x="79.6" y="389.0" text-anchor="middle" class="tk" textLength="18.1" lengthAdjust="spacingAndGlyphs">77.5</text>
<line x1="80.1" y1="373.5" x2="80.1" y2="376.5" stroke="#ccc" stroke-width="1"/>
<text x="115.9" y="389.0" text-anchor="middle" class="tk" textLength="18.1" lengthAdjust="spacingAndGlyphs">78.0</text>
<line x1="116.4" y1="373.5" x2="116.4" y2="376.5" stroke="#ccc" stroke-width="1"/>
<text x="152.2" y="389.0" text-anchor="middle" class="tk" textLength="18.1" lengthAdjust="spacingAndGlyphs">78.5</text>
<line x1="152.7" y1="373.5" x2="152.7" y2="376.5" stroke="#ccc" stroke-width="1"/>
<text x="188.6" y="389.0" text-anchor="middle" class="tk" textLength="18.1" lengthAdjust="spacingAndGlyphs">79.0</text>
<line x1="189.1" y1="373.5" x2="189.1" y2="376.5" stroke="#ccc" stroke-width="1"/>
<text x="224.9" y="389.0" text-anchor="middle" class="tk" textLength="18.1" lengthAdjust="spacingAndGlyphs">79.5</text>
<line x1="225.4" y1="373.5" x2="225.4" y2="376.5" stroke="#ccc" stroke-width="1"/>
<text x="261.2" y="389.0" text-anchor="middle" class="tk" textLength="18.1" lengthAdjust="spacingAndGlyphs">80.0</text>
<line x1="261.7" y1="373.5" x2="261.7" y2="376.5" stroke="#ccc" stroke-width="1"/>
<text x="297.5" y="389.0" text-anchor="middle" class="tk" textLength="18.1" lengthAdjust="spacingAndGlyphs">80.5</text>
<line x1="298.0" y1="373.5" x2="298.0" y2="376.5" stroke="#ccc" stroke-width="1"/>
<text x="333.8" y="389.0" text-anchor="middle" class="tk" textLength="18.1" lengthAdjust="spacingAndGlyphs">81.0</text>
<line x1="334.3" y1="373.5" x2="334.3" y2="376.5" stroke="#ccc" stroke-width="1"/>
<text x="370.1" y="389.0" text-anchor="middle" class="tk" textLength="18.1" lengthAdjust="spacingAndGlyphs">81.5</text>
<line x1="370.6" y1="373.5" x2="370.6" y2="376.5" stroke="#ccc" stroke-width="1"/>
<text x="406.4" y="389.0" text-anchor="middle" class="tk" textLength="18.1" lengthAdjust="spacingAndGlyphs">82.0</text>
<line x1="406.9" y1="373.5" x2="406.9" y2="376.5" stroke="#ccc" stroke-width="1"/>
<text x="442.8" y="389.0" text-anchor="middle" class="tk" textLength="18.1" lengthAdjust="spacingAndGlyphs">82.5</text>
<line x1="443.3" y1="373.5" x2="443.3" y2="376.5" stroke="#ccc" stroke-width="1"/>
<text x="479.1" y="389.0" text-anchor="middle" class="tk" textLength="18.1" lengthAdjust="spacingAndGlyphs">83.0</text>
<line x1="479.6" y1="373.5" x2="479.6" y2="376.5" stroke="#ccc" stroke-width="1"/>
<text x="515.4" y="389.0" text-anchor="middle" class="tk" textLength="18.1" lengthAdjust="spacingAndGlyphs">83.5</text>
<line x1="515.9" y1="373.5" x2="515.9" y2="376.5" stroke="#ccc" stroke-width="1"/>
<text x="551.7" y="389.0" text-anchor="middle" class="tk" textLength="18.1" lengthAdjust="spacingAndGlyphs">84.0</text>
<line x1="552.2" y1="373.5" x2="552.2" y2="376.5" stroke="#ccc" stroke-width="1"/>
<text x="588.0" y="389.0" text-anchor="middle" class="tk" textLength="18.1" lengthAdjust="spacingAndGlyphs">84.5</text>
<line x1="588.5" y1="373.5" x2="588.5" y2="376.5" stroke="#ccc" stroke-width="1"/>
<text x="329.5" y="411.0" text-anchor="middle" class="ti">Temperature (ºC)</text>
<text transform="translate(11.60,184.45) rotate(-90)" text-anchor="middle" class="ti">dF/dT</text>
<text x="3.2" y="15.5" class="lt">a</text>
<rect x="54.3" y="10.5" width="100.5" height="155.8" fill="#fff" stroke="#444" stroke-width="1.1"/>
<line x1="56.4" y1="18.6" x2="74.6" y2="18.6" stroke="#00ff00" stroke-width="2"/>
<text x="75.4" y="23.2" class="lg">I vaccine</text>
<line x1="56.4" y1="34.1" x2="74.6" y2="34.1" stroke="#000000" stroke-width="2"/>
<text x="75.4" y="38.7" class="lg">S vaccine</text>
<line x1="56.4" y1="49.7" x2="74.6" y2="49.7" stroke="#00ffff" stroke-width="2"/>
<text x="75.4" y="54.3" class="lg">B vaccine</text>
<line x1="56.4" y1="65.2" x2="74.6" y2="65.2" stroke="#ffff00" stroke-width="2"/>
<text x="75.4" y="69.8" class="lg">VicS vaccine</text>
<line x1="56.4" y1="80.7" x2="74.6" y2="80.7" stroke="#ff0000" stroke-width="2"/>
<text x="75.4" y="85.3" class="lg">Q1/76</text>
<line x1="56.4" y1="96.2" x2="74.6" y2="96.2" stroke="#800080" stroke-width="2"/>
<text x="75.4" y="100.8" class="lg">Q1/99</text>
<line x1="56.4" y1="111.8" x2="74.6" y2="111.8" stroke="#0000ff" stroke-width="2"/>
<text x="75.4" y="116.4" class="lg">N1/03</text>
<line x1="56.4" y1="127.3" x2="74.6" y2="127.3" stroke="#808000" stroke-width="2"/>
<text x="75.4" y="131.9" class="lg">V1/71</text>
<line x1="56.4" y1="142.8" x2="74.6" y2="142.8" stroke="#c05000" stroke-width="2"/>
<text x="75.4" y="147.4" class="lg">V5/90</text>
<line x1="56.4" y1="158.4" x2="74.6" y2="158.4" stroke="#ff80ff" stroke-width="2"/>
<text x="75.4" y="163.0" class="lg">V1/07</text>
<line x1="44.7" y1="441.6" x2="44.7" y2="811.7" stroke="#eeeeee" stroke-width="1.6"/>
<line x1="81.0" y1="441.6" x2="81.0" y2="811.7" stroke="#eeeeee" stroke-width="1.6"/>
<line x1="117.3" y1="441.6" x2="117.3" y2="811.7" stroke="#eeeeee" stroke-width="1.6"/>
<line x1="153.6" y1="441.6" x2="153.6" y2="811.7" stroke="#eeeeee" stroke-width="1.6"/>
<line x1="190.0" y1="441.6" x2="190.0" y2="811.7" stroke="#eeeeee" stroke-width="1.6"/>
<line x1="226.3" y1="441.6" x2="226.3" y2="811.7" stroke="#eeeeee" stroke-width="1.6"/>
<line x1="262.6" y1="441.6" x2="262.6" y2="811.7" stroke="#eeeeee" stroke-width="1.6"/>
<line x1="298.9" y1="441.6" x2="298.9" y2="811.7" stroke="#eeeeee" stroke-width="1.6"/>
<line x1="335.2" y1="441.6" x2="335.2" y2="811.7" stroke="#eeeeee" stroke-width="1.6"/>
<line x1="371.5" y1="441.6" x2="371.5" y2="811.7" stroke="#eeeeee" stroke-width="1.6"/>
<line x1="407.8" y1="441.6" x2="407.8" y2="811.7" stroke="#eeeeee" stroke-width="1.6"/>
<line x1="444.2" y1="441.6" x2="444.2" y2="811.7" stroke="#eeeeee" stroke-width="1.6"/>
<line x1="480.5" y1="441.6" x2="480.5" y2="811.7" stroke="#eeeeee" stroke-width="1.6"/>
<line x1="516.8" y1="441.6" x2="516.8" y2="811.7" stroke="#eeeeee" stroke-width="1.6"/>
<line x1="553.1" y1="441.6" x2="553.1" y2="811.7" stroke="#eeeeee" stroke-width="1.6"/>
<line x1="589.4" y1="441.6" x2="589.4" y2="811.7" stroke="#eeeeee" stroke-width="1.6"/>
<line x1="44.5" y1="442.4" x2="603.3" y2="442.4" stroke="#e4e4e4" stroke-width="1" stroke-dasharray="1,1"/>
<line x1="44.5" y1="479.7" x2="603.3" y2="479.7" stroke="#e4e4e4" stroke-width="1" stroke-dasharray="1,1"/>
<line x1="44.5" y1="517.0" x2="603.3" y2="517.0" stroke="#e4e4e4" stroke-width="1" stroke-dasharray="1,1"/>
<line x1="44.5" y1="554.4" x2="603.3" y2="554.4" stroke="#e4e4e4" stroke-width="1" stroke-dasharray="1,1"/>
<line x1="44.5" y1="591.7" x2="603.3" y2="591.7" stroke="#e4e4e4" stroke-width="1" stroke-dasharray="1,1"/>
<line x1="44.5" y1="629.0" x2="603.3" y2="629.0" stroke="#e4e4e4" stroke-width="1" stroke-dasharray="1,1"/>
<line x1="44.5" y1="666.3" x2="603.3" y2="666.3" stroke="#e4e4e4" stroke-width="1" stroke-dasharray="1,1"/>
<line x1="44.5" y1="703.6" x2="603.3" y2="703.6" stroke="#e4e4e4" stroke-width="1" stroke-dasharray="1,1"/>
<line x1="44.5" y1="741.0" x2="603.3" y2="741.0" stroke="#e4e4e4" stroke-width="1" stroke-dasharray="1,1"/>
<line x1="44.5" y1="778.3" x2="603.3" y2="778.3" stroke="#e4e4e4" stroke-width="1" stroke-dasharray="1,1"/>
<g clip-path="url(#cb)" fill="none" stroke-width="2.1" stroke-linejoin="round" stroke-linecap="round">
<path d="M44.4,778.2 C47.0,778.0 55.0,777.7 59.8,777.2 C64.6,776.8 68.9,776.0 73.1,775.5 C77.3,775.0 80.9,774.7 85.0,774.3 C89.1,773.9 93.0,773.6 97.9,773.0 C102.8,772.4 109.4,771.4 114.4,770.6 C119.4,769.9 123.7,769.2 128.0,768.5 C132.3,767.8 133.3,767.4 140.0,766.4 C146.7,765.4 160.5,764.7 168.2,762.7 C175.9,760.7 180.9,757.4 186.4,754.5 C191.9,751.6 196.4,748.8 200.9,745.5 C205.4,742.2 209.3,738.5 213.6,734.5 C217.8,730.5 222.4,726.0 226.4,721.8 C230.4,717.6 233.7,713.0 237.3,709.1 C240.9,705.2 244.5,701.9 248.2,698.2 C251.9,694.5 255.9,690.4 259.5,686.8 C263.1,683.2 265.8,680.0 269.5,676.8 C273.2,673.6 277.8,670.0 281.8,667.5 C285.8,665.0 289.9,663.5 293.7,662.0 C297.5,660.5 300.8,659.3 304.5,658.4 C308.2,657.5 312.2,657.1 316.1,656.8 C320.0,656.5 323.8,656.4 327.7,656.8 C331.6,657.2 335.3,657.8 339.3,659.3 C343.3,660.8 348.2,664.1 351.6,666.0 C355.1,667.9 357.7,669.0 360.0,670.5 C362.3,672.0 363.6,673.2 365.6,674.9 C367.6,676.6 370.0,678.7 372.0,680.5 C374.0,682.3 375.7,683.6 377.6,685.5 C379.5,687.4 381.4,689.9 383.2,691.8 C384.9,693.7 386.5,695.2 388.1,696.7 C389.8,698.2 391.3,699.5 393.1,700.9 C394.9,702.3 396.6,704.0 398.7,705.3 C400.8,706.6 403.5,707.8 406.0,708.5 C408.5,709.2 410.7,710.1 413.6,709.8 C416.5,709.5 420.2,708.6 423.5,706.8 C426.8,705.0 430.1,701.8 433.4,698.8 C436.7,695.8 440.0,691.7 443.3,688.9 C446.6,686.1 451.0,683.3 453.3,682.0 C455.6,680.7 455.7,681.0 457.0,681.0 C458.3,681.0 458.8,680.9 461.2,682.0 C463.6,683.1 468.0,685.2 471.1,687.9 C474.2,690.5 477.5,694.9 480.0,697.9 C482.5,700.9 483.6,701.5 485.9,705.8 C488.2,710.1 491.2,717.7 493.8,723.7 C496.4,729.7 499.1,736.0 501.7,742.0 C504.3,748.0 506.4,752.5 509.7,759.4 C513.0,766.3 517.6,776.9 521.6,783.2 C525.6,789.5 528.7,794.0 533.5,797.1 C538.3,800.2 543.7,800.5 550.5,801.7 C557.3,803.0 567.0,804.0 574.3,804.6 C581.6,805.2 589.1,805.4 594.1,805.2 C599.1,805.1 602.4,804.0 604.0,803.7" stroke="#00ff00"/>
<path d="M44.4,740.5 C46.6,740.5 53.7,741.0 57.9,740.5 C62.1,740.0 65.8,738.6 69.8,737.5 C73.8,736.4 77.7,735.1 81.7,733.6 C85.7,732.1 89.6,730.4 93.6,728.6 C97.6,726.8 101.1,724.9 105.5,722.7 C109.9,720.5 115.6,717.8 120.0,715.2 C124.4,712.6 127.9,709.9 131.9,707.3 C135.9,704.6 140.1,702.2 143.8,699.3 C147.6,696.4 151.3,693.4 154.4,690.1 C157.5,686.8 159.7,683.5 162.3,679.5 C164.9,675.5 167.5,670.9 170.2,666.3 C172.8,661.7 175.5,656.8 178.2,651.7 C180.8,646.6 183.5,641.4 186.1,635.9 C188.7,630.4 191.3,624.2 194.0,618.5 C196.7,612.8 199.3,607.5 202.0,601.8 C204.7,596.1 208.1,589.0 210.3,584.3 C212.5,579.6 213.7,576.8 215.3,573.4 C217.0,570.0 218.5,567.2 220.2,564.2 C221.8,561.2 223.0,558.8 225.2,555.5 C227.3,552.2 230.7,547.4 233.1,544.6 C235.5,541.8 237.5,540.6 239.7,538.9 C241.8,537.2 243.6,535.5 246.0,534.6 C248.4,533.7 250.9,533.4 253.9,533.2 C256.9,533.0 260.8,533.0 263.8,533.2 C266.8,533.4 268.4,534.5 271.7,534.6 C275.0,534.7 280.0,534.5 283.7,534.0 C287.4,533.5 290.3,532.6 293.6,531.6 C296.9,530.6 300.2,528.9 303.5,528.0 C306.8,527.1 310.1,526.1 313.4,526.0 C316.7,525.9 320.3,526.3 323.3,527.2 C326.3,528.1 328.7,529.2 331.3,531.6 C333.9,534.0 336.6,537.5 339.2,541.5 C341.8,545.5 344.6,550.1 347.1,555.4 C349.6,560.6 352.2,568.1 354.0,573.0 C355.8,577.9 356.5,581.4 357.8,585.0 C359.1,588.6 360.4,591.3 361.6,594.4 C362.9,597.5 364.1,600.5 365.3,603.8 C366.6,607.1 367.9,610.8 369.1,614.1 C370.4,617.4 371.6,620.4 372.8,623.5 C374.1,626.6 375.3,629.8 376.6,632.9 C377.9,636.0 379.0,639.3 380.4,642.3 C381.8,645.3 383.4,648.2 385.0,650.7 C386.6,653.2 388.1,655.3 389.7,657.3 C391.3,659.3 392.9,661.6 394.4,662.9 C395.9,664.2 397.2,664.8 398.9,665.2 C400.6,665.6 403.0,665.8 404.6,665.2 C406.2,664.6 407.2,663.4 408.7,661.6 C410.2,659.8 412.0,657.3 413.7,654.6 C415.4,651.9 417.1,649.3 418.6,645.6 C420.2,641.9 421.6,636.8 423.0,632.5 C424.4,628.2 425.9,623.8 427.3,619.7 C428.7,615.6 429.9,611.8 431.3,607.8 C432.7,603.8 434.1,599.9 435.5,595.5 C436.9,591.1 438.2,586.8 440.0,581.5 C441.8,576.2 443.7,569.7 446.0,563.7 C448.3,557.8 452.1,549.2 453.9,545.8 C455.7,542.3 455.6,544.2 457.0,543.0 C458.4,541.8 459.9,539.3 462.1,538.8 C464.3,538.3 468.0,538.2 470.4,540.2 C472.8,542.2 474.6,545.9 476.7,550.8 C478.8,555.7 481.3,564.7 482.7,569.6 C484.1,574.5 483.4,574.2 484.9,580.0 C486.3,585.8 489.5,597.2 491.4,604.6 C493.3,612.0 494.8,617.5 496.4,624.4 C498.0,631.2 499.7,638.6 501.3,645.7 C502.9,652.8 504.5,659.8 506.0,667.0 C507.5,674.2 509.1,682.4 510.4,689.0 C511.7,695.6 512.4,700.9 513.6,706.9 C514.8,712.9 515.9,718.5 517.5,725.1 C519.1,731.7 521.0,739.2 523.1,746.2 C525.2,753.2 527.8,761.2 530.1,767.3 C532.5,773.4 535.1,778.3 537.2,782.8 C539.3,787.2 541.2,791.3 542.8,794.0 C544.4,796.7 545.1,797.1 547.0,799.0 C548.9,800.9 550.6,804.2 554.4,805.6 C558.2,807.0 561.7,807.1 570.0,807.5 C578.3,807.9 598.3,807.9 604.0,808.0" stroke="#000000"/>
<path d="M44.4,774.8 C47.0,774.4 55.0,773.3 59.8,772.6 C64.6,771.9 68.9,771.2 73.1,770.6 C77.3,770.0 80.9,769.5 85.0,769.0 C89.1,768.5 93.0,768.0 97.9,767.3 C102.8,766.6 109.4,765.5 114.4,764.8 C119.4,764.1 123.7,763.6 128.0,763.2 C132.3,762.8 133.3,763.0 140.0,762.3 C146.7,761.6 160.5,760.1 168.2,759.1 C175.9,758.1 180.3,757.5 186.4,756.4 C192.5,755.3 198.4,753.9 204.5,752.7 C210.6,751.5 216.6,750.2 222.7,749.1 C228.8,748.0 234.7,747.2 240.9,746.4 C247.1,745.5 255.2,744.5 260.0,744.0 C264.8,743.5 264.9,743.8 269.8,743.3 C274.8,742.8 283.1,741.5 289.7,741.0 C296.3,740.5 302.9,740.3 309.5,740.0 C316.1,739.7 324.4,739.7 329.4,739.4 C334.4,739.1 336.0,739.1 339.3,738.4 C342.6,737.7 346.6,736.4 349.2,735.4 C351.8,734.4 352.7,733.7 355.0,732.5 C357.3,731.3 360.4,730.0 362.8,728.4 C365.2,726.8 367.0,724.8 369.1,722.7 C371.2,720.6 373.5,718.3 375.5,715.7 C377.5,713.1 379.5,710.0 381.1,707.3 C382.7,704.6 383.9,702.4 385.3,699.5 C386.7,696.6 388.2,692.7 389.5,689.7 C390.8,686.7 391.8,684.5 393.1,681.3 C394.4,678.1 396.0,674.7 397.5,670.5 C399.0,666.3 400.9,660.3 402.2,656.3 C403.5,652.3 404.1,650.8 405.5,646.4 C406.9,642.0 409.1,634.4 410.4,630.0 C411.7,625.6 411.7,626.0 413.3,620.0 C414.9,614.0 418.0,601.0 420.0,594.0 C422.0,587.0 423.2,584.3 425.4,578.0 C427.6,571.7 430.8,562.0 433.3,556.4 C435.8,550.8 437.9,547.3 440.3,544.5 C442.7,541.7 445.1,539.8 447.5,539.8 C449.9,539.8 452.5,541.5 454.9,544.8 C457.3,548.1 459.6,553.9 461.8,559.7 C464.0,565.5 465.8,572.6 467.8,579.5 C469.8,586.4 471.9,594.0 473.7,601.3 C475.5,608.6 477.2,616.8 478.7,623.2 C480.2,629.7 481.6,634.6 482.7,640.0 C483.8,645.4 484.1,648.7 485.5,655.6 C486.9,662.5 489.4,672.7 491.4,681.3 C493.4,689.9 495.7,700.0 497.4,707.1 C499.1,714.2 499.6,717.0 501.7,723.7 C503.8,730.4 507.0,739.9 509.7,747.5 C512.4,755.1 515.0,762.0 517.6,769.3 C520.2,776.6 523.3,786.1 525.6,791.1 C527.9,796.1 529.0,796.6 531.5,799.0 C534.0,801.4 535.1,804.0 540.6,805.6 C546.1,807.2 553.8,808.1 564.4,808.6 C575.0,809.1 597.4,808.6 604.0,808.6" stroke="#00ffff"/>
<path d="M44.4,756.0 C47.0,755.7 53.9,755.0 59.8,754.4 C65.7,753.8 73.1,752.9 79.7,752.4 C86.3,751.9 92.9,751.6 99.5,751.4 C106.1,751.2 112.8,751.5 119.4,751.4 C126.0,751.3 134.1,751.0 139.2,750.8 C144.3,750.6 145.2,750.7 150.0,750.0 C154.8,749.3 162.8,747.8 168.2,746.4 C173.6,745.0 178.5,743.3 182.7,741.8 C186.9,740.3 190.0,739.3 193.6,737.3 C197.2,735.3 200.8,732.9 204.5,730.0 C208.2,727.1 211.8,723.8 215.5,720.0 C219.2,716.2 222.8,711.8 226.4,707.3 C230.0,702.8 233.7,697.9 237.3,692.7 C240.9,687.6 245.1,681.9 248.2,676.4 C251.3,670.9 253.3,666.6 256.0,660.0 C258.7,653.4 261.6,643.7 264.5,637.0 C267.4,630.3 270.6,625.2 273.1,619.6 C275.7,614.0 277.6,608.6 279.8,603.1 C282.0,597.6 284.2,592.0 286.4,586.5 C288.6,581.0 290.8,576.2 293.0,570.0 C295.2,563.8 297.1,556.5 299.5,549.4 C301.9,542.3 304.7,533.9 307.5,527.6 C310.3,521.3 313.6,515.5 316.4,511.7 C319.2,507.9 321.8,506.2 324.3,504.8 C326.8,503.4 328.8,502.7 331.3,503.4 C333.8,504.1 336.4,505.6 339.2,508.8 C342.0,512.0 345.5,517.6 348.1,522.7 C350.8,527.8 353.1,534.0 355.1,539.5 C357.1,545.0 358.2,549.2 360.0,556.0 C361.8,562.8 364.1,573.3 365.9,580.0 C367.6,586.7 368.9,590.7 370.5,596.0 C372.1,601.3 373.3,605.5 375.4,611.8 C377.5,618.1 380.6,627.4 383.3,633.7 C386.0,640.0 388.8,645.5 391.3,649.5 C393.8,653.5 395.9,655.9 398.2,657.5 C400.5,659.1 402.7,659.7 405.2,659.4 C407.7,659.1 410.6,657.1 413.1,655.5 C415.6,653.9 417.5,652.4 420.0,649.6 C422.5,646.8 425.2,641.7 427.9,638.7 C430.5,635.7 433.1,633.1 435.9,631.7 C438.7,630.3 441.8,629.9 444.8,630.2 C447.8,630.5 450.9,631.6 453.7,633.7 C456.5,635.8 459.0,638.7 461.7,642.7 C464.4,646.7 467.1,652.0 469.6,657.5 C472.1,663.0 474.2,669.1 476.5,675.4 C478.8,681.7 481.4,689.1 483.5,695.2 C485.6,701.3 487.1,706.1 489.0,712.0 C490.9,717.9 492.8,724.4 495.0,730.5 C497.2,736.6 499.6,742.8 502.0,748.5 C504.4,754.2 506.5,759.2 509.1,764.5 C511.7,769.8 514.7,775.5 517.5,780.0 C520.3,784.5 522.6,788.4 525.9,791.2 C529.2,794.0 534.2,795.6 537.2,796.8 C540.2,798.0 541.4,797.7 544.2,798.2 C547.0,798.7 550.5,799.2 554.0,799.6 C557.5,800.0 560.0,799.9 565.0,800.3 C570.0,800.6 577.7,801.6 584.2,801.7 C590.7,801.8 600.7,801.1 604.0,801.0" stroke="#ffff00"/>
<path d="M44.4,761.3 C46.3,761.1 51.7,761.4 55.9,760.4 C60.1,759.4 65.5,757.1 69.8,755.4 C74.1,753.7 77.7,751.9 81.7,750.4 C85.7,748.9 89.6,748.0 93.6,746.5 C97.6,745.0 101.5,743.3 105.5,741.5 C109.5,739.7 113.4,737.4 117.4,735.6 C121.4,733.8 125.3,732.3 129.3,730.6 C133.3,728.9 137.6,727.4 141.2,725.6 C144.8,723.8 147.2,722.2 151.1,719.7 C155.0,717.2 160.4,714.2 164.5,710.9 C168.6,707.6 171.8,703.9 175.5,700.0 C179.2,696.1 182.2,693.0 186.4,687.3 C190.7,681.6 197.0,673.1 201.0,665.6 C205.0,658.1 207.5,649.9 210.5,642.0 C213.5,634.1 216.1,627.2 219.2,618.5 C222.3,609.8 225.9,599.5 229.0,589.7 C232.1,579.9 234.9,568.8 237.7,559.8 C240.5,550.8 243.0,543.0 245.7,536.0 C248.4,529.0 251.6,522.8 253.7,518.0 C255.8,513.2 256.5,511.0 258.5,507.5 C260.5,504.0 263.4,499.2 265.8,496.9 C268.2,494.6 270.2,493.2 272.7,493.5 C275.2,493.8 278.2,495.6 280.7,498.8 C283.2,502.0 285.5,507.6 287.6,512.7 C289.8,517.8 291.6,523.2 293.6,529.6 C295.6,536.0 297.5,543.8 299.5,551.4 C301.5,559.0 303.7,567.4 305.5,575.2 C307.3,583.0 308.8,590.5 310.4,598.0 C312.0,605.5 313.6,613.0 315.0,620.0 C316.4,627.0 317.6,633.5 319.0,640.0 C320.4,646.5 321.2,651.8 323.1,659.3 C325.0,666.8 327.4,675.9 330.1,684.8 C332.8,693.7 336.2,705.2 339.3,712.5 C342.4,719.8 346.2,725.0 348.6,728.7 C351.1,732.5 352.1,733.5 354.0,735.0 C355.9,736.5 358.0,737.4 360.2,738.0 C362.4,738.6 364.7,738.7 367.0,738.5 C369.3,738.3 371.8,738.0 374.0,736.8 C376.2,735.5 377.7,733.5 380.0,731.0 C382.3,728.5 384.3,726.4 387.9,721.8 C391.5,717.2 397.2,709.5 401.8,703.3 C406.4,697.1 411.1,690.6 415.7,684.8 C420.3,679.0 425.6,673.0 429.6,668.6 C433.7,664.2 437.0,660.4 440.0,658.2 C443.0,656.0 444.9,655.4 447.8,655.6 C450.8,655.8 454.4,657.2 457.7,659.5 C461.0,661.8 464.6,665.4 467.6,669.4 C470.6,673.4 473.0,678.3 475.6,683.3 C478.2,688.3 480.8,693.1 483.5,699.2 C486.2,705.3 489.1,713.3 491.8,719.7 C494.5,726.1 497.2,731.5 499.8,737.5 C502.4,743.5 504.7,749.4 507.7,755.4 C510.7,761.4 514.3,767.7 517.6,773.3 C520.9,778.9 524.2,784.8 527.5,789.1 C530.8,793.4 534.0,796.2 537.5,799.0 C541.0,801.8 542.4,804.2 548.5,805.6 C554.6,807.0 565.0,807.5 574.3,807.6 C583.5,807.7 599.0,806.3 604.0,806.0" stroke="#ff0000"/>
<path d="M44.4,789.7 C47.0,789.4 53.9,789.0 59.8,788.1 C65.7,787.2 73.1,785.4 79.7,784.2 C86.3,783.1 92.9,782.1 99.5,781.2 C106.1,780.3 112.8,779.4 119.4,778.8 C126.0,778.2 131.1,777.9 139.2,777.6 C147.3,777.4 160.3,777.6 168.2,777.3 C176.1,777.0 180.3,776.6 186.4,776.0 C192.5,775.4 198.4,774.4 204.5,773.6 C210.6,772.8 216.6,771.9 222.7,771.3 C228.8,770.7 235.4,770.3 240.9,770.0 C246.4,769.7 250.7,769.6 255.5,769.6 C260.3,769.6 264.1,769.9 269.8,770.1 C275.5,770.4 283.1,770.8 289.7,771.1 C296.3,771.4 302.9,771.7 309.5,771.7 C316.1,771.7 323.8,771.5 329.4,771.1 C335.0,770.7 339.0,769.9 343.3,769.1 C347.6,768.3 352.1,767.2 355.2,766.2 C358.3,765.2 359.6,764.3 362.0,763.0 C364.4,761.7 366.9,760.8 369.9,758.4 C372.9,756.0 376.5,752.3 379.8,748.5 C383.1,744.7 386.5,740.7 389.8,735.6 C393.1,730.5 396.7,723.7 399.7,717.7 C402.7,711.7 405.1,706.1 407.6,699.8 C410.1,693.5 412.5,685.7 414.6,680.0 C416.7,674.3 418.1,670.1 420.0,665.4 C421.9,660.7 423.7,657.9 426.0,651.6 C428.3,645.3 431.3,634.8 433.9,627.8 C436.5,620.8 439.4,614.2 441.8,609.9 C444.2,605.6 445.8,603.9 448.0,602.0 C450.2,600.1 452.9,598.3 455.2,598.5 C457.5,598.7 459.5,600.4 461.7,603.0 C463.9,605.6 466.3,609.4 468.6,613.9 C470.9,618.4 473.3,623.8 475.6,629.8 C477.9,635.8 480.2,642.0 482.5,649.6 C484.8,657.2 487.2,667.2 489.4,675.4 C491.6,683.5 493.6,691.1 495.6,698.5 C497.7,705.9 499.5,712.9 501.7,719.7 C503.9,726.5 506.4,732.9 508.7,739.5 C511.0,746.1 513.1,753.1 515.6,759.4 C518.1,765.7 520.6,771.6 523.6,777.2 C526.6,782.8 530.5,789.5 533.5,793.1 C536.5,796.7 538.2,796.8 541.4,799.0 C544.6,801.2 545.4,805.2 552.5,806.6 C559.6,808.0 576.8,807.9 584.2,807.6 C591.6,807.3 593.7,806.3 597.0,805.0 C600.3,803.7 602.8,800.8 604.0,800.0" stroke="#800080"/>
<path d="M44.4,777.6 C47.0,777.5 53.9,777.4 59.8,777.2 C65.7,777.0 73.1,776.6 79.7,776.2 C86.3,775.8 92.9,775.1 99.5,774.8 C106.1,774.5 112.8,774.5 119.4,774.2 C126.0,773.9 134.1,773.1 139.2,772.9 C144.3,772.6 145.2,773.0 150.0,772.7 C154.8,772.4 162.1,771.9 168.2,771.3 C174.3,770.7 180.3,770.1 186.4,769.1 C192.5,768.1 198.4,766.9 204.5,765.5 C210.6,764.1 216.6,762.6 222.7,760.9 C228.8,759.2 236.3,756.9 240.9,755.5 C245.5,754.1 246.5,753.5 250.0,752.3 C253.5,751.1 257.9,749.8 261.9,748.3 C265.9,746.8 269.8,745.3 273.8,743.3 C277.8,741.3 281.3,739.2 285.7,736.4 C290.1,733.6 296.4,729.7 300.0,726.4 C303.6,723.1 304.7,720.0 307.0,716.5 C309.3,713.0 311.6,709.4 313.9,705.6 C316.2,701.8 318.5,697.7 320.8,693.5 C323.1,689.3 325.5,684.5 327.8,680.2 C330.1,676.0 332.5,672.0 334.8,668.0 C337.1,664.0 339.4,660.8 341.7,656.0 C344.0,651.2 346.3,645.0 348.6,639.0 C350.9,633.0 353.7,624.9 355.5,620.0 C357.3,615.1 357.7,614.8 359.5,609.8 C361.3,604.8 364.8,595.3 366.5,590.0 C368.2,584.7 367.6,585.2 369.8,578.0 C372.0,570.8 376.5,555.7 379.8,546.5 C383.1,537.3 386.7,529.2 389.7,522.7 C392.7,516.2 395.1,511.4 397.6,507.8 C400.1,504.2 402.5,502.1 404.6,501.3 C406.8,500.6 408.2,501.6 410.5,503.3 C412.8,505.1 415.9,506.9 418.5,511.8 C421.1,516.7 423.9,525.0 426.4,532.6 C428.9,540.2 431.1,549.5 433.3,557.4 C435.5,565.3 437.5,572.6 439.3,580.2 C441.1,587.8 442.4,593.8 444.2,603.0 C445.9,612.2 447.6,624.6 449.8,635.7 C452.1,646.8 455.6,659.8 457.7,669.4 C459.8,679.0 460.9,684.9 462.7,693.3 C464.5,701.7 467.2,714.0 468.6,720.0 C470.0,726.0 469.9,724.4 471.1,729.6 C472.4,734.8 474.3,744.5 476.1,751.4 C477.9,758.3 479.6,765.3 481.9,771.3 C484.2,777.2 486.8,782.5 489.8,787.1 C492.8,791.7 496.3,795.8 499.8,799.0 C503.3,802.2 505.8,804.9 510.8,806.6 C515.8,808.3 514.5,808.6 530.0,809.0 C545.5,809.4 591.7,809.0 604.0,809.0" stroke="#0000ff"/>
<path d="M44.4,779.2 C50.3,779.2 67.2,779.5 79.7,779.2 C92.2,778.9 107.7,777.8 119.4,777.2 C131.1,776.6 141.9,776.0 150.0,775.5 C158.1,775.0 162.1,774.7 168.2,774.2 C174.3,773.7 180.3,773.2 186.4,772.7 C192.5,772.2 200.1,771.8 204.5,771.3 C208.9,770.8 207.8,770.6 213.1,769.6 C218.4,768.6 228.6,766.9 236.3,765.0 C244.0,763.1 251.7,761.1 259.4,758.0 C267.1,754.9 276.0,750.4 282.6,746.5 C289.2,742.6 294.7,738.6 298.8,734.9 C302.9,731.2 304.6,727.9 307.5,724.5 C310.4,721.1 313.2,718.2 316.0,714.5 C318.8,710.8 321.5,706.3 324.0,702.0 C326.5,697.7 328.8,693.3 331.0,688.5 C333.2,683.7 335.1,677.8 337.0,673.0 C338.9,668.2 340.9,663.2 342.3,660.0 C343.7,656.8 343.6,658.5 345.6,653.5 C347.7,648.5 352.0,637.0 354.6,629.7 C357.2,622.4 359.2,616.4 361.5,609.8 C363.8,603.2 366.8,595.6 368.5,590.0 C370.2,584.4 369.6,583.6 371.8,576.0 C374.0,568.4 378.7,553.0 381.7,544.5 C384.7,536.0 387.3,530.6 389.7,524.7 C392.1,518.8 393.9,513.0 396.1,508.9 C398.3,504.8 400.4,501.6 402.7,499.8 C405.0,498.0 408.2,497.8 410.2,497.9 C412.2,498.0 413.3,499.0 414.8,500.2 C416.3,501.4 417.4,501.4 419.3,505.0 C421.2,508.6 423.3,513.6 426.0,521.5 C428.7,529.4 432.6,542.7 435.3,552.5 C438.0,562.3 440.3,571.3 442.3,580.2 C444.3,589.1 445.6,596.4 447.5,606.0 C449.4,615.6 451.3,626.1 453.7,637.7 C456.1,649.3 459.5,664.9 461.7,675.4 C463.9,685.9 465.3,693.6 467.0,701.0 C468.7,708.4 470.5,713.6 472.0,720.0 C473.5,726.4 474.4,732.5 476.0,739.5 C477.6,746.5 479.2,754.7 481.5,762.0 C483.8,769.3 486.6,776.9 489.8,783.2 C493.0,789.5 497.4,795.9 500.9,799.7 C504.4,803.5 506.8,804.5 510.8,806.0 C514.8,807.5 509.2,808.1 524.7,808.6 C540.2,809.1 590.8,808.9 604.0,809.0" stroke="#808000"/>
<path d="M44.4,776.8 C46.7,776.5 53.2,775.9 58.0,775.0 C62.8,774.1 68.6,772.6 73.1,771.6 C77.6,770.6 80.9,769.7 85.0,768.7 C89.1,767.7 93.0,767.1 97.9,765.6 C102.8,764.1 109.5,761.8 114.4,759.8 C119.4,757.8 123.3,756.0 127.6,753.8 C131.9,751.5 136.1,749.2 140.0,746.3 C143.9,743.4 147.3,739.7 151.1,736.5 C154.9,733.3 158.9,731.3 162.7,727.3 C166.4,723.3 170.0,717.9 173.6,712.7 C177.2,707.6 180.1,703.2 184.5,696.4 C188.9,689.5 196.2,678.2 200.0,671.6 C203.8,665.0 204.2,662.2 207.5,656.5 C210.8,650.8 215.8,642.4 219.8,637.6 C223.9,632.8 227.8,630.3 231.8,627.6 C235.8,624.9 239.6,623.1 243.7,621.6 C247.8,620.1 253.4,619.0 256.6,618.4 C259.9,617.8 260.7,618.1 263.2,618.3 C265.7,618.4 268.7,618.8 271.5,619.3 C274.3,619.8 277.1,620.2 279.8,621.2 C282.6,622.2 285.2,623.7 288.0,625.4 C290.8,627.1 293.6,628.9 296.3,631.2 C299.1,633.5 301.8,636.4 304.5,639.4 C307.2,642.4 310.1,646.0 312.8,649.3 C315.5,652.6 317.7,655.3 320.5,659.0 C323.3,662.7 326.6,667.2 329.8,671.3 C333.0,675.3 336.4,680.0 339.7,683.3 C343.0,686.6 346.3,689.4 349.6,691.2 C352.9,693.0 356.2,694.2 359.5,694.2 C362.8,694.2 366.1,693.0 369.4,691.2 C372.7,689.4 376.1,686.6 379.4,683.3 C382.7,680.0 386.0,674.9 389.3,671.3 C392.6,667.6 395.9,664.2 399.2,661.4 C402.5,658.6 405.6,655.1 409.1,654.5 C412.6,653.9 416.9,655.7 420.0,657.5 C423.1,659.3 425.2,661.9 427.9,665.5 C430.5,669.1 433.2,674.1 435.9,679.4 C438.5,684.7 441.2,690.5 443.8,697.2 C446.4,703.9 448.9,712.7 451.5,719.7 C454.1,726.8 456.6,732.9 459.2,739.5 C461.8,746.1 464.5,753.4 467.1,759.4 C469.8,765.4 472.3,770.1 475.1,775.2 C477.9,780.3 480.9,786.4 483.9,790.1 C486.9,793.9 490.1,795.4 492.9,797.7 C495.7,800.0 497.2,802.1 500.9,803.7 C504.5,805.3 509.2,806.4 514.8,807.2 C520.4,808.0 519.7,808.4 534.6,808.6 C549.5,808.8 592.4,808.6 604.0,808.6" stroke="#c05000"/>
<path d="M44.4,781.2 C47.0,781.2 53.9,781.5 59.8,781.2 C65.7,780.9 73.1,779.9 79.7,779.2 C86.3,778.5 92.9,777.8 99.5,776.8 C106.1,775.8 112.8,774.5 119.4,773.3 C126.0,772.0 134.1,770.6 139.2,769.3 C144.3,768.0 146.5,766.7 150.0,765.5 C153.5,764.3 157.0,763.5 160.0,762.3 C163.0,761.1 163.8,760.4 168.2,758.2 C172.6,756.0 180.9,752.1 186.4,749.1 C191.9,746.1 196.4,743.0 200.9,740.0 C205.4,737.0 209.3,733.9 213.6,730.9 C217.8,727.9 222.4,724.4 226.4,721.8 C230.4,719.2 233.7,717.0 237.3,715.5 C240.9,714.0 244.4,713.3 248.2,712.7 C252.0,712.1 256.3,712.0 259.9,712.0 C263.5,712.0 266.5,712.2 269.8,712.6 C273.1,713.0 276.5,714.0 279.8,714.6 C283.1,715.2 286.4,716.2 289.7,716.5 C293.0,716.8 296.3,716.6 299.6,716.5 C302.9,716.4 306.2,716.3 309.5,716.0 C312.8,715.7 316.1,714.9 319.4,714.8 C322.7,714.7 326.1,714.8 329.4,715.2 C332.7,715.7 336.0,716.1 339.3,717.5 C342.6,718.9 345.8,721.7 349.2,723.5 C352.6,725.3 356.6,726.5 360.0,728.5 C363.4,730.5 366.6,732.8 369.9,735.6 C373.2,738.4 376.5,742.7 379.8,745.5 C383.1,748.3 386.5,750.8 389.8,752.4 C393.1,754.0 396.7,754.9 399.7,755.4 C402.7,755.9 404.6,756.4 407.6,755.4 C410.6,754.4 414.2,752.0 417.5,749.4 C420.8,746.8 424.2,743.5 427.5,739.5 C430.8,735.5 434.1,730.6 437.4,725.6 C440.7,720.6 444.0,714.6 447.3,709.8 C450.6,705.0 453.9,700.0 457.2,696.9 C460.5,693.8 464.5,692.1 467.1,690.9 C469.8,689.7 471.3,689.9 473.1,689.9 C474.9,689.9 475.8,689.6 477.9,690.9 C480.0,692.2 482.9,694.4 485.9,697.9 C488.9,701.4 492.5,706.4 495.8,711.7 C499.1,717.0 502.4,723.3 505.7,729.6 C509.0,735.9 512.3,742.8 515.6,749.4 C518.9,756.0 522.6,763.3 525.6,769.3 C528.6,775.3 530.9,780.6 533.5,785.2 C536.1,789.8 538.6,793.5 541.4,797.1 C544.2,800.7 545.0,804.6 550.5,806.6 C556.0,808.6 568.0,808.9 574.3,809.2 C580.6,809.5 583.9,809.4 588.2,808.6 C592.5,807.8 597.3,805.6 600.1,804.6 C602.9,803.6 604.2,803.0 605.0,802.7" stroke="#ff80ff"/>
</g>
<line x1="44.5" y1="441.6" x2="603.3" y2="441.6" stroke="#707070" stroke-width="1.6"/>
<line x1="603.3" y1="441.6" x2="603.3" y2="811.7" stroke="#707070" stroke-width="1.6"/>
<line x1="44.5" y1="441.6" x2="44.5" y2="812.3" stroke="#151515" stroke-width="1.25"/>
<line x1="44.5" y1="811.7" x2="603.3" y2="811.7" stroke="#151515" stroke-width="1.25"/>
<text x="39.6" y="446.2" text-anchor="end" class="tk" textLength="13.0" lengthAdjust="spacingAndGlyphs">5.0</text>
<line x1="41" y1="442.4" x2="44.5" y2="442.4" stroke="#ccc" stroke-width="1"/>
<text x="39.6" y="483.5" text-anchor="end" class="tk" textLength="13.0" lengthAdjust="spacingAndGlyphs">4.5</text>
<line x1="41" y1="479.7" x2="44.5" y2="479.7" stroke="#ccc" stroke-width="1"/>
<text x="39.6" y="520.8" text-anchor="end" class="tk" textLength="13.0" lengthAdjust="spacingAndGlyphs">4.0</text>
<line x1="41" y1="517.0" x2="44.5" y2="517.0" stroke="#ccc" stroke-width="1"/>
<text x="39.6" y="558.2" text-anchor="end" class="tk" textLength="13.0" lengthAdjust="spacingAndGlyphs">3.5</text>
<line x1="41" y1="554.4" x2="44.5" y2="554.4" stroke="#ccc" stroke-width="1"/>
<text x="39.6" y="595.5" text-anchor="end" class="tk" textLength="13.0" lengthAdjust="spacingAndGlyphs">3.0</text>
<line x1="41" y1="591.7" x2="44.5" y2="591.7" stroke="#ccc" stroke-width="1"/>
<text x="39.6" y="632.8" text-anchor="end" class="tk" textLength="13.0" lengthAdjust="spacingAndGlyphs">2.5</text>
<line x1="41" y1="629.0" x2="44.5" y2="629.0" stroke="#ccc" stroke-width="1"/>
<text x="39.6" y="670.1" text-anchor="end" class="tk" textLength="13.0" lengthAdjust="spacingAndGlyphs">2.0</text>
<line x1="41" y1="666.3" x2="44.5" y2="666.3" stroke="#ccc" stroke-width="1"/>
<text x="39.6" y="707.4" text-anchor="end" class="tk" textLength="13.0" lengthAdjust="spacingAndGlyphs">1.5</text>
<line x1="41" y1="703.6" x2="44.5" y2="703.6" stroke="#ccc" stroke-width="1"/>
<text x="39.6" y="744.8" text-anchor="end" class="tk" textLength="13.0" lengthAdjust="spacingAndGlyphs">1.0</text>
<line x1="41" y1="741.0" x2="44.5" y2="741.0" stroke="#ccc" stroke-width="1"/>
<text x="39.6" y="782.1" text-anchor="end" class="tk" textLength="13.0" lengthAdjust="spacingAndGlyphs">0.5</text>
<line x1="41" y1="778.3" x2="44.5" y2="778.3" stroke="#ccc" stroke-width="1"/>
<text x="43.7" y="827.0" text-anchor="middle" class="tk" textLength="18.1" lengthAdjust="spacingAndGlyphs">77.0</text>
<line x1="44.7" y1="811.7" x2="44.7" y2="814.7" stroke="#ccc" stroke-width="1"/>
<text x="80.0" y="827.0" text-anchor="middle" class="tk" textLength="18.1" lengthAdjust="spacingAndGlyphs">77.5</text>
<line x1="81.0" y1="811.7" x2="81.0" y2="814.7" stroke="#ccc" stroke-width="1"/>
<text x="116.3" y="827.0" text-anchor="middle" class="tk" textLength="18.1" lengthAdjust="spacingAndGlyphs">78.0</text>
<line x1="117.3" y1="811.7" x2="117.3" y2="814.7" stroke="#ccc" stroke-width="1"/>
<text x="152.6" y="827.0" text-anchor="middle" class="tk" textLength="18.1" lengthAdjust="spacingAndGlyphs">78.5</text>
<line x1="153.6" y1="811.7" x2="153.6" y2="814.7" stroke="#ccc" stroke-width="1"/>
<text x="189.0" y="827.0" text-anchor="middle" class="tk" textLength="18.1" lengthAdjust="spacingAndGlyphs">79.0</text>
<line x1="190.0" y1="811.7" x2="190.0" y2="814.7" stroke="#ccc" stroke-width="1"/>
<text x="225.3" y="827.0" text-anchor="middle" class="tk" textLength="18.1" lengthAdjust="spacingAndGlyphs">79.5</text>
<line x1="226.3" y1="811.7" x2="226.3" y2="814.7" stroke="#ccc" stroke-width="1"/>
<text x="261.6" y="827.0" text-anchor="middle" class="tk" textLength="18.1" lengthAdjust="spacingAndGlyphs">80.0</text>
<line x1="262.6" y1="811.7" x2="262.6" y2="814.7" stroke="#ccc" stroke-width="1"/>
<text x="297.9" y="827.0" text-anchor="middle" class="tk" textLength="18.1" lengthAdjust="spacingAndGlyphs">80.5</text>
<line x1="298.9" y1="811.7" x2="298.9" y2="814.7" stroke="#ccc" stroke-width="1"/>
<text x="334.2" y="827.0" text-anchor="middle" class="tk" textLength="18.1" lengthAdjust="spacingAndGlyphs">81.0</text>
<line x1="335.2" y1="811.7" x2="335.2" y2="814.7" stroke="#ccc" stroke-width="1"/>
<text x="370.5" y="827.0" text-anchor="middle" class="tk" textLength="18.1" lengthAdjust="spacingAndGlyphs">81.5</text>
<line x1="371.5" y1="811.7" x2="371.5" y2="814.7" stroke="#ccc" stroke-width="1"/>
<text x="406.8" y="827.0" text-anchor="middle" class="tk" textLength="18.1" lengthAdjust="spacingAndGlyphs">82.0</text>
<line x1="407.8" y1="811.7" x2="407.8" y2="814.7" stroke="#ccc" stroke-width="1"/>
<text x="443.2" y="827.0" text-anchor="middle" class="tk" textLength="18.1" lengthAdjust="spacingAndGlyphs">82.5</text>
<line x1="444.2" y1="811.7" x2="444.2" y2="814.7" stroke="#ccc" stroke-width="1"/>
<text x="479.5" y="827.0" text-anchor="middle" class="tk" textLength="18.1" lengthAdjust="spacingAndGlyphs">83.0</text>
<line x1="480.5" y1="811.7" x2="480.5" y2="814.7" stroke="#ccc" stroke-width="1"/>
<text x="515.8" y="827.0" text-anchor="middle" class="tk" textLength="18.1" lengthAdjust="spacingAndGlyphs">83.5</text>
<line x1="516.8" y1="811.7" x2="516.8" y2="814.7" stroke="#ccc" stroke-width="1"/>
<text x="552.1" y="827.0" text-anchor="middle" class="tk" textLength="18.1" lengthAdjust="spacingAndGlyphs">84.0</text>
<line x1="553.1" y1="811.7" x2="553.1" y2="814.7" stroke="#ccc" stroke-width="1"/>
<text x="588.4" y="827.0" text-anchor="middle" class="tk" textLength="18.1" lengthAdjust="spacingAndGlyphs">84.5</text>
<line x1="589.4" y1="811.7" x2="589.4" y2="814.7" stroke="#ccc" stroke-width="1"/>
<text x="337.3" y="849.5" text-anchor="middle" class="ti">Temperature (ºC)</text>
<text transform="translate(10.65,627.70) rotate(-90)" text-anchor="middle" class="ti">dF/dT</text>
<text x="3.2" y="450.5" class="lt">b</text>
<rect x="54.5" y="448.7" width="78.8" height="156.2" fill="#fff" stroke="#444" stroke-width="1.1"/>
<line x1="57.1" y1="456.3" x2="71.6" y2="456.3" stroke="#00ff00" stroke-width="2"/>
<text x="73.3" y="461.7" class="lg">A vaccine</text>
<line x1="57.1" y1="471.9" x2="71.6" y2="471.9" stroke="#000000" stroke-width="2"/>
<text x="73.3" y="477.3" class="lg">Q1/73</text>
<line x1="57.1" y1="487.6" x2="71.6" y2="487.6" stroke="#00ffff" stroke-width="2"/>
<text x="73.3" y="493.0" class="lg">Q3/88</text>
<line x1="57.1" y1="503.2" x2="71.6" y2="503.2" stroke="#ffff00" stroke-width="2"/>
<text x="73.3" y="508.6" class="lg">Q4/99</text>
<line x1="57.1" y1="518.9" x2="71.6" y2="518.9" stroke="#ff0000" stroke-width="2"/>
<text x="73.3" y="524.3" class="lg">N1/62</text>
<line x1="57.1" y1="534.5" x2="71.6" y2="534.5" stroke="#800080" stroke-width="2"/>
<text x="73.3" y="539.9" class="lg">N1/88</text>
<line x1="57.1" y1="550.1" x2="71.6" y2="550.1" stroke="#0000ff" stroke-width="2"/>
<text x="73.3" y="555.5" class="lg">V18/91</text>
<line x1="57.1" y1="565.8" x2="71.6" y2="565.8" stroke="#808000" stroke-width="2"/>
<text x="73.3" y="571.2" class="lg">V6/92</text>
<line x1="57.1" y1="581.4" x2="71.6" y2="581.4" stroke="#c05000" stroke-width="2"/>
<text x="73.3" y="586.8" class="lg">V1/02</text>
<line x1="57.1" y1="597.1" x2="71.6" y2="597.1" stroke="#ff80ff" stroke-width="2"/>
<text x="73.3" y="602.5" class="lg">H104</text>
</svg>
</body></html>
